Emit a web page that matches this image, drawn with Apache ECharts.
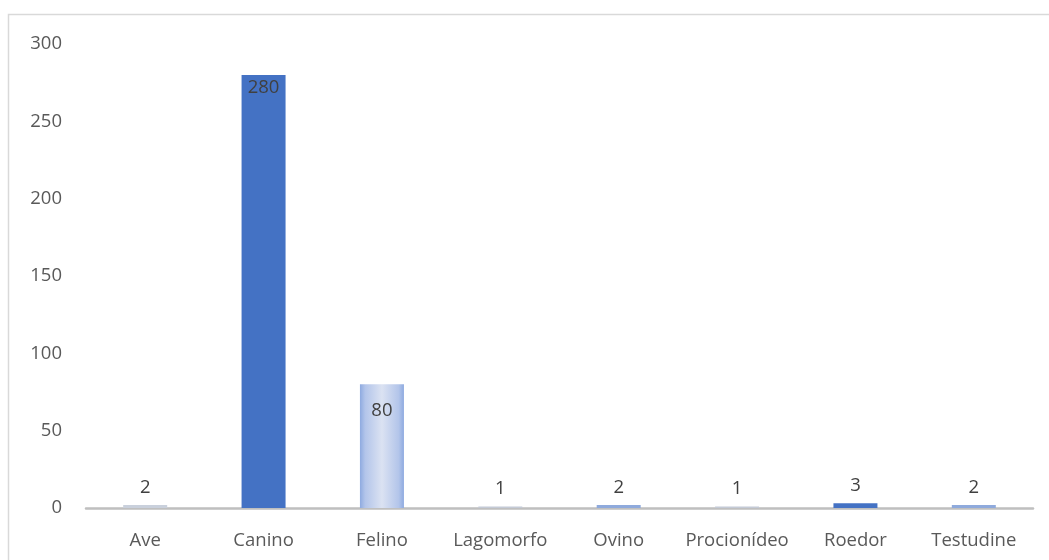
<!DOCTYPE html>
<html><head><meta charset="utf-8">
<script src="https://cdn.jsdelivr.net/npm/echarts@6/dist/echarts.min.js"></script>
<style>html,body{margin:0;padding:0;background:#fff}#c{width:1049px;height:560px}</style>
</head><body><div id="c"></div>
<script>
const categories = ['Ave','Canino','Felino','Lagomorfo','Ovino','Procionídeo','Roedor','Testudine'];
const values = [2,280,80,1,2,1,3,2];
const yTicks = [0,50,100,150,200,250,300];

const barColors = ['#c9d0dc','#4472C4',null,'#c4cad6','#8faadc','#c4cad6','#4472C4','#8faadc'];
const felinoFill = {type:'linear',x:0,y:0,x2:1,y2:0,colorStops:[{offset:0,color:'#8eaae0'},{offset:0.12,color:'#b3c5ea'},{offset:0.5,color:'#dbe2f2'},{offset:0.88,color:'#b3c5ea'},{offset:1,color:'#8eaae0'}]};
const insideLabel = [false,true,true,false,false,false,false,false];
const labelDist = [8,3,17,8,8,8,8,8];

const font = '"Open Sans", sans-serif';
const fs = 18.5;
const chart = echarts.init(document.getElementById('c'));
chart.setOption({
  animation:false,
  graphic:[{type:'rect',shape:{x:8.5,y:14.5,width:1060,height:600},style:{fill:'none',stroke:'#d9d9d9',lineWidth:1.5},silent:true}],
  grid:{left:86,right:16,top:44,bottom:52,containLabel:false},
  xAxis:{type:'category',data:categories,
    axisLine:{lineStyle:{color:'#bfbfbf',width:2.5}},axisTick:{show:false},
    axisLabel:{color:'#595959',fontSize:fs,fontFamily:font,margin:23,interval:0,hideOverlap:false}},
  yAxis:{type:'value',min:yTicks[0],max:yTicks[yTicks.length-1],interval:50,
    splitLine:{show:false},axisLine:{show:false},axisTick:{show:false},
    axisLabel:{color:'#595959',fontSize:fs,fontFamily:font,margin:24}},
  series:[{type:'bar',barWidth:44,
    data:values.map((v,i)=>({value:v,
      itemStyle: i===2 ? {color:felinoFill} : {color:barColors[i]},
      label:{show:true,position: insideLabel[i]?'insideTop':'top',distance: labelDist[i],
        color:'#404040',fontSize:fs,fontFamily:font}}))
  }]
});
</script></body></html>
